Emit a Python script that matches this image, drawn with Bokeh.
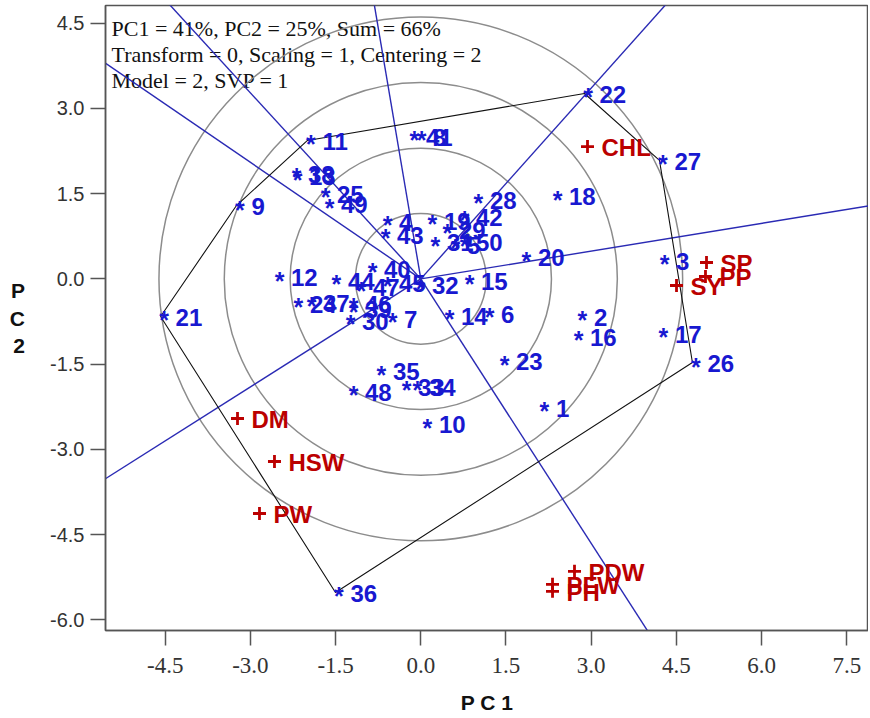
from bokeh.plotting import figure
from bokeh.models import Range1d, FixedTicker, PrintfTickFormatter, ColumnDataSource
from bokeh.core.properties import value
from bokeh.embed import file_html
from bokeh.resources import INLINE

# ---------------- data ----------------
gen_ids = [str(i) for i in range(1, 51)]
gen_x = [2.116, 2.785, 4.229, -0.648, 0.549, 1.148, -0.560, -0.049, -3.245, 0.056,
         -1.995, -2.549, -2.232, 0.444, 0.796, 2.715, 4.211, 2.345, 0.144, 1.799,
         -4.581, 2.882, 1.412, -2.215, -1.739, 4.782, 4.202, 0.954, 0.408, -1.299,
         0.197, -0.067, -0.313, -0.120, -0.754, -1.502, -1.986, -2.250, -1.246, -0.912,
         -0.173, 0.708, -0.683, -1.546, -0.648, -1.246, -1.106, -1.246, -1.669, 0.708]
gen_y = [-2.264, -0.662, 0.324, 1.011, 0.606, -0.609, -0.697, 2.507, 1.292, -2.546,
         2.437, 0.042, 1.820, -0.644, -0.028, -1.014, -0.961, 1.468, 1.028, 0.394,
         -0.662, 3.264, -1.437, -0.433, 1.504, -1.472, 2.085, 1.398, 0.870, -0.732,
         0.658, -0.099, -1.894, -1.894, -1.613, -5.521, -0.415, 1.856, -0.521, 0.183,
         2.507, 1.099, 0.782, -0.028, -0.063, -0.433, -0.134, -1.982, 1.327, 0.658]

trait_names = ["CHL", "SP", "PP", "SY", "DM", "HSW", "PW", "PDW", "PFW", "PH"]
trait_x = [2.935, 5.030, 5.012, 4.502, -3.227, -2.576, -2.840, 2.706, 2.319, 2.319]
trait_y = [2.329, 0.289, 0.042, -0.116, -2.458, -3.215, -4.130, -5.148, -5.377, -5.500]

polygon_ids = ["22", "27", "26", "36", "21", "9", "11"]
circle_radii = [1.15, 2.30, 3.46, 4.61]

x_ticks = [-4.5, -3.0, -1.5, 0.0, 1.5, 3.0, 4.5, 6.0, 7.5]
y_ticks = [-6.0, -4.5, -3.0, -1.5, 0.0, 1.5, 3.0, 4.5]

header_lines = ["PC1 = 41%, PC2 = 25%, Sum = 66%",
                "Transform = 0, Scaling = 1, Centering = 2",
                "Model = 2, SVP = 1"]

BLUE = "#1818d0"
RAY = "#2a2ab4"
RED = "#bb0000"

# ---------------- figure ----------------
p = figure(width=868, height=718, output_backend="svg", toolbar_location=None,
           x_range=Range1d(-5.551, 7.882), y_range=Range1d(-6.190, 4.813),
           min_border_left=105, min_border_right=0, min_border_top=5, min_border_bottom=88)
p.grid.visible = False
p.outline_line_color = "#555555"
p.outline_line_width = 1.5
p.background_fill_color = "white"

for ax in (p.xaxis, p.yaxis):
    ax.major_tick_out = 15
    ax.major_tick_in = 0
    ax.minor_tick_out = 0
    ax.minor_tick_in = 0
    ax.axis_line_color = "#555555"
    ax.axis_line_width = 1.5
    ax.major_tick_line_color = "#555555"
    ax.major_tick_line_width = 1.5
    ax.formatter = PrintfTickFormatter(format="%.1f")
    ax.major_label_text_color = "#333333"
    ax.axis_label_text_font = "Liberation Sans"
    ax.axis_label_text_font_style = "bold"
    ax.axis_label_text_font_size = "21px"
    ax.axis_label_text_color = "#111111"

p.xaxis.ticker = FixedTicker(ticks=x_ticks)
p.yaxis.ticker = FixedTicker(ticks=y_ticks)
p.xaxis.major_label_text_font = "Liberation Sans Narrow"
p.xaxis.major_label_text_font_size = "23px"
p.xaxis.major_label_standoff = 12
p.yaxis.major_label_text_font = "Liberation Sans"
p.yaxis.major_label_text_font_size = "20px"
p.yaxis.major_label_standoff = 6
p.xaxis.axis_label = "P C 1"
p.xaxis.axis_label_standoff = 15
p.yaxis.axis_label = "P\nC\n2"
p.yaxis.axis_label_orientation = "horizontal"
p.yaxis.axis_label_standoff = 22

# header text (drawn first, lines pass over it)
hdr_y = [4.408, 3.942, 3.484]
p.text(x=[-5.445] * 3, y=hdr_y, text=header_lines, text_font=value("Liberation Serif"),
       text_font_size="22px", text_color="#111111", text_baseline="alphabetic",
       text_align="left")

# concentric circles
for r in circle_radii:
    p.circle(x=0, y=0, radius=r, fill_color=None, line_color="#8c8c8c", line_width=1.5)

# polygon and perpendicular rays
idx = {g: i for i, g in enumerate(gen_ids)}
px = [gen_x[idx[g]] for g in polygon_ids]
py = [gen_y[idx[g]] for g in polygon_ids]
n = len(px)
for i in range(n):
    ax_, ay_ = px[i], py[i]
    bx_, by_ = px[(i + 1) % n], py[(i + 1) % n]
    dx, dy = bx_ - ax_, by_ - ay_
    nx, ny = dy, -dx
    if nx * ax_ + ny * ay_ < 0:
        nx, ny = -nx, -ny
    L = (nx ** 2 + ny ** 2) ** 0.5
    p.line([0, 30 * nx / L], [0, 30 * ny / L], line_color=RAY, line_width=1.4)

p.patch(px, py, fill_color=None, line_color="#111111", line_width=1.1)

# genotypes
gsrc = ColumnDataSource(dict(x=gen_x, y=gen_y, label=gen_ids, star=["*"] * len(gen_ids)))
p.text(x="x", y="y", text="star", source=gsrc, text_font=value("Liberation Sans"),
       text_font_style="bold", text_font_size="25px", text_color=BLUE,
       text_align="center", text_baseline="middle", x_offset=3.5, y_offset=4)
p.text(x="x", y="y", text="label", source=gsrc, text_font=value("Liberation Sans"),
       text_font_style="bold", text_font_size="24px", text_color=BLUE,
       text_align="left", text_baseline="middle", x_offset=15, y_offset=1)

# traits
tsrc = ColumnDataSource(dict(x=trait_x, y=trait_y, label=trait_names))
p.scatter(x="x", y="y", source=tsrc, marker="cross", size=13, line_color=RED, line_width=2.8)
p.text(x="x", y="y", text="label", source=tsrc, text_font=value("Liberation Sans"),
       text_font_style="bold", text_font_size="24px", text_color=RED,
       text_align="left", text_baseline="middle", x_offset=14, y_offset=1)

open("out.html", "w").write(file_html(p, INLINE))
